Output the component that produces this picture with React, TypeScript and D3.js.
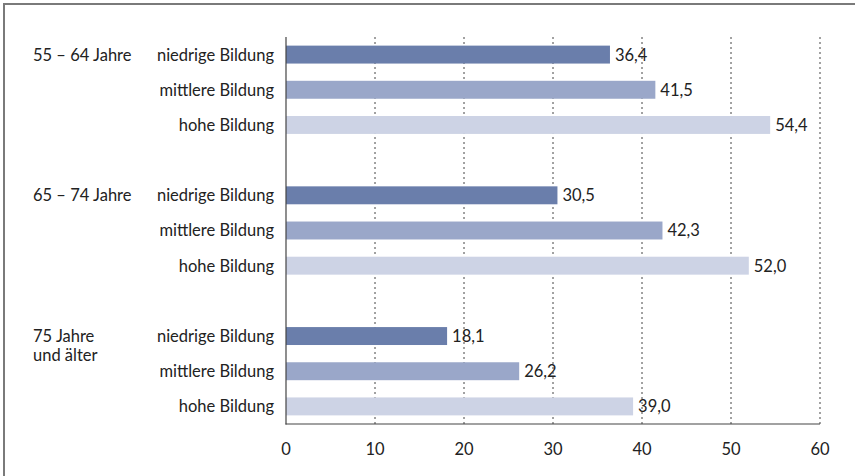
import React from "react";
import * as d3 from "d3";

const groups: string[][] = [["55 – 64 Jahre"], ["65 – 74 Jahre"], ["75 Jahre", "und älter"]];
const levels: string[] = ["niedrige Bildung", "mittlere Bildung", "hohe Bildung"];
const values: number[][] = [
  [36.4, 41.5, 54.4],
  [30.5, 42.3, 52.0],
  [18.1, 26.2, 39.0],
];
const colors: string[] = ["#6a7eab", "#9aa7c9", "#cdd3e5"];
const xTicks: number[] = [0, 10, 20, 30, 40, 50, 60];

const W = 855;
const H = 476;
const FONT = "Lato, 'Open Sans', sans-serif";
const FS = 16.5;

export default function App() {
  const x = d3.scaleLinear().domain([0, 60]).range([286, 820]);
  const slots = d3.range(11).map(String);
  const y = d3.scaleBand<string>().domain(slots).range([37, 424]).paddingInner(0.49).paddingOuter(0.245);
  const slotOf = (g: number, l: number) => String(g * 4 + l);
  const fmt = (v: number) => v.toFixed(1).replace(".", ",");

  return (
    <svg width={W} height={H} style={{ position: "absolute", left: 0, top: 0 }} fontFamily={FONT}>
      <rect width={W} height={H} fill="#fff" />
      <line x1={4} y1={4} x2={W} y2={4} stroke="#7a7a7a" strokeWidth={2} />
      <line x1={4} y1={3} x2={4} y2={H} stroke="#7a7a7a" strokeWidth={2} />
      {xTicks.filter((t) => t > 0).map((t) => (
        <line key={t} x1={x(t)} x2={x(t)} y1={37} y2={424} stroke="#444" strokeWidth={1} strokeDasharray="2,3" />
      ))}
      {values.map((row, g) =>
        row.map((v, l) => {
          const yy = y(slotOf(g, l))!;
          const bh = y.bandwidth();
          return (
            <g key={`${g}-${l}`}>
              <rect x={x(0)} y={yy} width={x(v) - x(0)} height={bh} fill={colors[l]} />
              <text x={x(v) + 5} y={yy + bh / 2} dy="0.36em" fontSize={FS} fill="#222">{fmt(v)}</text>
              <text x={274} y={yy + bh / 2} dy="0.36em" fontSize={FS} fill="#222" textAnchor="end">{levels[l]}</text>
            </g>
          );
        })
      )}
      {groups.map((lines, g) => {
        const yy = y(slotOf(g, 0))! + y.bandwidth() / 2;
        return (
          <text key={g} x={33} y={yy} fontSize={FS} fill="#222">
            {lines.map((ln, i) => (
              <tspan key={i} x={33} dy={i === 0 ? "0.36em" : "1.15em"}>{ln}</tspan>
            ))}
          </text>
        );
      })}
      <line x1={x(0)} x2={x(0)} y1={37} y2={424.5} stroke="#444" strokeWidth={1.2} />
      <line x1={x(0) - 0.5} x2={x(60)} y1={424} y2={424} stroke="#444" strokeWidth={1.2} />
      {xTicks.map((t) => (
        <text key={t} x={x(t)} y={449} dy="0.36em" fontSize={FS} fill="#222" textAnchor="middle">{t}</text>
      ))}
    </svg>
  );
}
